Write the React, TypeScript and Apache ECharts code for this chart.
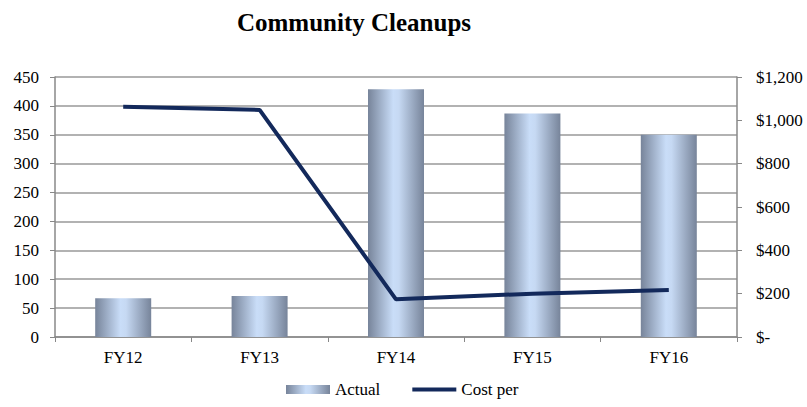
import React, { useEffect, useRef } from "react";
import * as echarts from "echarts";

const categories = ["FY12", "FY13", "FY14", "FY15", "FY16"];
const actual = [67, 71, 429, 387, 350];
const costPer = [1063, 1048, 174, 200, 217];
const leftTicks = { min: 0, max: 450, interval: 50 };
const rightTicks = { min: 0, max: 1200, interval: 200 };

const FONT = "Liberation Serif";

export default function App() {
  const ref = useRef<HTMLDivElement>(null);
  useEffect(() => {
    if (!ref.current) return;
    const chart = echarts.init(ref.current, null, { renderer: "svg" });
    const barGrad = new echarts.graphic.LinearGradient(0, 0, 1, 0, [
      { offset: 0, color: "#77849a" },
      { offset: 0.45, color: "#c9ddf8" },
      { offset: 0.55, color: "#c6d9f3" },
      { offset: 1, color: "#77849a" },
    ]);
    chart.setOption({
      animation: false,
      backgroundColor: "#ffffff",
      title: {
        text: "Community Cleanups",
        left: 349,
        textAlign: "center",
        top: 5,
        textStyle: { fontFamily: FONT, fontSize: 25, fontWeight: "bold", color: "#000" },
      },
      legend: {
        bottom: 4,
        left: 281,
        itemGap: 32,
        itemWidth: 44,
        itemHeight: 9,
        textStyle: { fontFamily: FONT, fontSize: 17, color: "#000" },
        data: [
          { name: "Actual", icon: "rect" },
          { name: "Cost per", icon: "path://M0,0 H44 V4 H0 Z", itemStyle: { color: "#13295b" } },
        ],
      },
      grid: { left: 55, right: 70, top: 77, bottom: 70, containLabel: false },
      xAxis: {
        type: "category",
        data: categories,
        axisLine: { lineStyle: { color: "#888", width: 1.5 } },
        axisTick: { show: true, length: 5, lineStyle: { color: "#888" } },
        axisLabel: { fontFamily: FONT, fontSize: 17, color: "#000", margin: 12 },
      },
      yAxis: [
        {
          type: "value",
          min: leftTicks.min,
          max: leftTicks.max,
          interval: leftTicks.interval,
          axisLine: { show: true, lineStyle: { color: "#888", width: 1.5 } },
          axisTick: { show: true, length: 5, lineStyle: { color: "#888" } },
          splitLine: { lineStyle: { color: "#999", width: 1.5 } },
          axisLabel: { fontFamily: FONT, fontSize: 17, color: "#000", margin: 16 },
        },
        {
          type: "value",
          min: rightTicks.min,
          max: rightTicks.max,
          interval: rightTicks.interval,
          position: "right",
          axisLine: { show: true, lineStyle: { color: "#888", width: 1.5 } },
          axisTick: { show: true, length: 5, lineStyle: { color: "#888" } },
          splitLine: { show: false },
          axisLabel: {
            fontFamily: FONT,
            fontSize: 17,
            color: "#000",
            margin: 19,
            formatter: (v: number) => (v === 0 ? "$-" : "$" + v.toLocaleString("en-US")),
          },
        },
      ],
      series: [
        {
          name: "Actual",
          type: "bar",
          data: actual,
          yAxisIndex: 0,
          barWidth: 56,
          itemStyle: { color: barGrad },
        },
        {
          name: "Cost per",
          type: "line",
          data: costPer,
          yAxisIndex: 1,
          symbol: "none",
          lineStyle: { color: "#13295b", width: 4 },
          itemStyle: { color: "#13295b" },
        },
      ],
    });
    return () => chart.dispose();
  }, []);
  return (
    <div
      ref={ref}
      style={{ position: "fixed", left: 0, top: 0, width: 807, height: 407 }}
    />
  );
}
